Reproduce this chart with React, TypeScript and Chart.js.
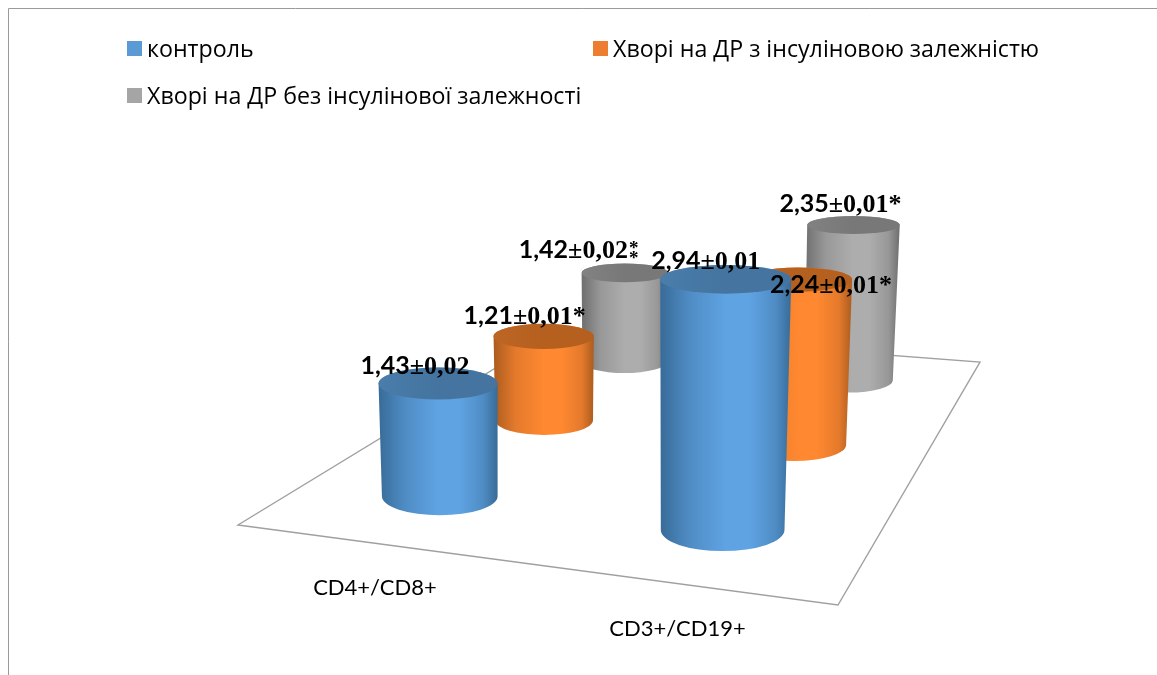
import React, { useEffect, useRef } from "react";
import { Chart, registerables } from "chart.js";

Chart.register(...registerables);

// Chart content
const categories = ["CD4+/CD8+", "CD3+/CD19+"];
const seriesNames = [
  "контроль",
  "Хворі на ДР з інсуліновою залежністю",
  "Хворі на ДР без інсулінової залежності",
];
const controlValues = [1.43, 2.94];
const insulinDependentValues = [1.21, 2.24];
const nonInsulinDependentValues = [1.42, 2.35];
const controlErrors = [0.02, 0.01];
const insulinDependentErrors = [0.01, 0.01];
const nonInsulinDependentErrors = [0.02, 0.01];
const controlMarks = [0, 0];
const insulinDependentMarks = [1, 1];
const nonInsulinDependentMarks = [2, 1];

// Styling of the three series
const palettes = [
  { swatch: "#5b9bd5", light: "#5fa3e3", mid: "#4f8cc4", edge: "#386b98", cap: "#44749f", capLight: "#4a7dab" },
  { swatch: "#ed7d31", light: "#ff8830", mid: "#e47a2c", edge: "#ac5c1f", cap: "#b5601f", capLight: "#bd6524" },
  { swatch: "#a5a5a5", light: "#adadad", mid: "#989898", edge: "#6e6e6e", cap: "#787878", capLight: "#828282" },
];

// Corners of the floor on the canvas: front-left, front-right, back-right, back-left
const floorCorners = [
  [238, 525],
  [838, 605],
  [980, 362],
  [558, 330],
];

// Where each value label sits relative to the centre of its cylinder's cap
const labelOffsets = [
  [[-23, -18], [-20, -18]],
  [[-19, -20], [33, 5]],
  [[-46, -23], [-13, -21]],
];

const legendEntries = [
  { x: 127, y: 49 },
  { x: 593, y: 49 },
  { x: 127, y: 96 },
];

const SANS = '"Open Sans", "Noto Sans", sans-serif';
const NUM_FONT = 'bold 25px Lato, "Open Sans", sans-serif';
const SERIF_FONT = 'bold 26px "Liberation Serif", serif';

// Perspective mapping of the unit square onto the floor quadrilateral
function makeFloorMap(q: number[][]) {
  const [p0, p1, p2, p3] = q;
  const dx1 = p1[0] - p2[0];
  const dx2 = p3[0] - p2[0];
  const sx = p0[0] - p1[0] + p2[0] - p3[0];
  const dy1 = p1[1] - p2[1];
  const dy2 = p3[1] - p2[1];
  const sy = p0[1] - p1[1] + p2[1] - p3[1];
  const det = dx1 * dy2 - dx2 * dy1;
  const g = (sx * dy2 - dx2 * sy) / det;
  const h = (dx1 * sy - sx * dy1) / det;
  const a = p1[0] - p0[0] + g * p1[0];
  const b = p3[0] - p0[0] + h * p3[0];
  const d = p1[1] - p0[1] + g * p1[1];
  const e = p3[1] - p0[1] + h * p3[1];
  return (u: number, v: number) => {
    const w = g * u + h * v + 1;
    return [(a * u + b * v + p0[0]) / w, (d * u + e * v + p0[1]) / w];
  };
}

// Fraction of an axis' range at which a value lies
function fractionOf(scale: any, value: number) {
  return scale.getDecimalForPixel(scale.getPixelForValue(value));
}

function drawCylinder(
  ctx: CanvasRenderingContext2D,
  bx: number, by: number, brx: number, bry: number,
  tx: number, ty: number, trx: number, tryy: number,
  pal: (typeof palettes)[number]
) {
  const left = Math.min(bx - brx, tx - trx);
  const right = Math.max(bx + brx, tx + trx);
  const grad = ctx.createLinearGradient(left, 0, right, 0);
  grad.addColorStop(0, pal.edge);
  grad.addColorStop(0.22, pal.mid);
  grad.addColorStop(0.5, pal.light);
  grad.addColorStop(0.68, pal.light);
  grad.addColorStop(0.88, pal.mid);
  grad.addColorStop(1, pal.edge);

  ctx.beginPath();
  ctx.moveTo(tx - trx, ty);
  ctx.lineTo(bx - brx, by);
  ctx.ellipse(bx, by, brx, bry, 0, Math.PI, 0, true);
  ctx.lineTo(tx + trx, ty);
  ctx.ellipse(tx, ty, trx, tryy, 0, 0, Math.PI, true);
  ctx.closePath();
  ctx.fillStyle = grad;
  ctx.fill();

  const cap = ctx.createLinearGradient(left, 0, right, 0);
  cap.addColorStop(0, pal.capLight);
  cap.addColorStop(0.5, pal.cap);
  cap.addColorStop(1, pal.cap);
  ctx.beginPath();
  ctx.ellipse(tx, ty, trx, tryy, 0, 0, Math.PI * 2);
  ctx.fillStyle = cap;
  ctx.fill();
}

function drawValueLabel(
  ctx: CanvasRenderingContext2D,
  value: number, error: number, marks: number, cx: number, cy: number
) {
  const head = value.toFixed(2).replace(".", ",");
  const tail = "±" + error.toFixed(2).replace(".", ",");
  const star = marks === 1 ? "*" : "";
  ctx.textBaseline = "alphabetic";
  ctx.textAlign = "left";
  ctx.fillStyle = "#000";
  ctx.font = NUM_FONT;
  const w1 = ctx.measureText(head).width;
  ctx.font = SERIF_FONT;
  const w2 = ctx.measureText(tail + star).width;
  const w3 = marks === 2 ? 11 : 0;
  let x = cx - (w1 + w2 + w3) / 2;
  const base = cy + 8;
  ctx.font = NUM_FONT;
  ctx.fillText(head, x, base);
  x += w1;
  ctx.font = SERIF_FONT;
  ctx.fillText(tail + star, x, base);
  if (marks === 2) {
    // two asterisks stacked above one another
    x += w2;
    ctx.font = 'bold 19px "Liberation Serif", serif';
    ctx.fillText("*", x + 1, base - 4);
    ctx.fillText("*", x + 1, base + 6);
  }
}

const cylinderPlugin = {
  id: "cylinders",
  beforeDatasetsDraw(chart: any) {
    const { ctx, scales } = chart;
    const floor = makeFloorMap(floorCorners);

    // page frame: only the top and left edges are visible
    ctx.save();
    ctx.strokeStyle = "#9a9a9a";
    ctx.lineWidth = 1;
    ctx.beginPath();
    ctx.moveTo(8.5, 675);
    ctx.lineTo(8.5, 8.5);
    ctx.lineTo(1157, 8.5);
    ctx.stroke();

    // floor
    ctx.strokeStyle = "#a0a0a0";
    ctx.lineWidth = 1.4;
    ctx.beginPath();
    floorCorners.forEach((p, i) => (i ? ctx.lineTo(p[0], p[1]) : ctx.moveTo(p[0], p[1])));
    ctx.closePath();
    ctx.stroke();

    // cylinders, the rearmost series first
    const unit = scales.y.getPixelForValue(0) - scales.y.getPixelForValue(1);
    const tops: any[] = [];
    for (let s = 2; s >= 0; s--) {
      const ds = chart.data.datasets[s];
      ds.data.forEach((pt: any, c: number) => {
        const u = fractionOf(scales.x, pt.x);
        const v = fractionOf(scales.depth, s);
        const [bx, by] = floor(u, v);
        const pxPerUnit = (0.116 * (by + 164)) / unit;
        const rise =
          (scales.y.getPixelForValue(0) - scales.y.getPixelForValue(pt.y)) *
          pxPerUnit * (1 + 0.02 * pt.y);
        const brx = 0.118 * (by - 6);
        const bry = 0.06 * (by - 362) + 11;
        const tx = bx + (bx - 589) * pt.y * 0.008;
        const ty = by - rise;
        const trx = brx * (1 + 0.02 * pt.y);
        const tryy = bry * (1 - 0.11 * pt.y);
        drawCylinder(ctx, bx, by, brx, bry, tx, ty, trx, tryy, palettes[s]);
        tops.push({ s, c, tx, ty, pt, ds });
      });
    }

    // value labels above everything else
    tops.forEach(({ s, c, tx, ty, pt, ds }) => {
      const [ox, oy] = labelOffsets[s][c];
      drawValueLabel(ctx, pt.y, ds.errors[c], ds.marks[c], tx + ox, ty + oy);
    });

    // category labels below the front edge of the floor
    ctx.fillStyle = "#000";
    ctx.font = '22px Lato, "Open Sans", sans-serif';
    ctx.textAlign = "center";
    ctx.textBaseline = "middle";
    chart.data.labels.forEach((label: string, c: number) => {
      const [x, y] = floor(fractionOf(scales.x, c), 0);
      ctx.fillText(label, x, y + 45);
    });

    // legend
    ctx.textAlign = "left";
    chart.data.datasets.forEach((ds: any, s: number) => {
      const e = legendEntries[s];
      ctx.fillStyle = palettes[s].swatch;
      ctx.fillRect(e.x, e.y - 8, 15, 15);
      ctx.fillStyle = "#000";
      ctx.font = `23.2px ${SANS}`;
      ctx.fillText(ds.label, e.x + 20, e.y + 1);
    });
    ctx.restore();
  },
};

function toPoints(values: number[]) {
  return values.map((y, x) => ({ x, y }));
}

export default function App() {
  const ref = useRef<HTMLCanvasElement>(null);

  useEffect(() => {
    const chart = new Chart(ref.current as HTMLCanvasElement, {
      type: "scatter",
      data: {
        labels: categories,
        datasets: [
          { label: seriesNames[0], data: toPoints(controlValues), errors: controlErrors, marks: controlMarks, pointRadius: 0 },
          { label: seriesNames[1], data: toPoints(insulinDependentValues), errors: insulinDependentErrors, marks: insulinDependentMarks, pointRadius: 0 },
          { label: seriesNames[2], data: toPoints(nonInsulinDependentValues), errors: nonInsulinDependentErrors, marks: nonInsulinDependentMarks, pointRadius: 0 },
        ] as any,
      },
      options: {
        animation: false,
        responsive: false,
        layout: { padding: 0 },
        plugins: { legend: { display: false }, tooltip: { enabled: false } },
        scales: {
          // category position along the front edge of the floor
          x: { type: "linear", display: false, min: -0.505, max: 1.475 },
          // series position into the depth of the floor
          depth: { type: "linear", axis: "y", display: false, min: -0.5, max: 2.5 },
          y: { type: "linear", display: false, min: 0, max: 3 },
        } as any,
      },
      plugins: [cylinderPlugin],
    });
    return () => chart.destroy();
  }, []);

  return (
    <div style={{ position: "fixed", left: 0, top: 0, width: 1157, height: 675, background: "#fff" }}>
      <canvas ref={ref} width={1157} height={675} style={{ display: "block" }} />
    </div>
  );
}
